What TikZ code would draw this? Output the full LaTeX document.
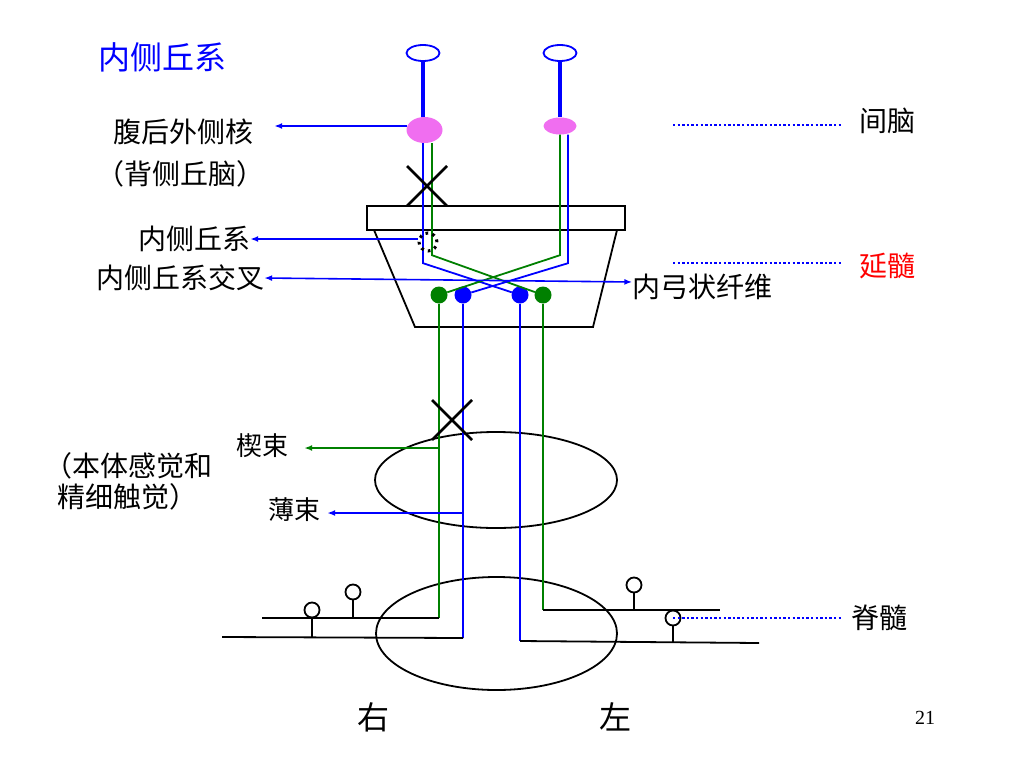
\documentclass[tikz,border=0pt]{standalone}
\usepackage{fontspec}
\usepackage{xcolor}
\usepackage{tikz}
\usetikzlibrary{shapes,arrows.meta,positioning}
\setmainfont{Noto Sans CJK SC}
\newfontfamily\pagefont{Liberation Serif}
\definecolor{nerveblue}{RGB}{0,0,255}
\definecolor{nervegreen}{RGB}{0,128,0}
\definecolor{nucleuspink}{RGB}{240,110,240}
\definecolor{tagred}{RGB}{255,0,0}
\tikzstyle{tag} = [inner sep=0pt, font=\fontsize{28}{32}\selectfont]
\tikzstyle{cortex} = [ellipse, draw=nerveblue, fill=white, line width=1.8pt, minimum width=33pt, minimum height=16pt, inner sep=0pt]
\tikzstyle{nucleus} = [ellipse, fill=nucleuspink, inner sep=0pt]
\tikzstyle{relay} = [circle, minimum size=17pt, inner sep=0pt]
\tikzstyle{ganglion} = [circle, draw, line width=1.8pt, minimum size=15pt, inner sep=0pt]
\tikzstyle{axon} = [draw, nerveblue, line width=4pt]
\tikzstyle{bfiber} = [draw, nerveblue, line width=1.8pt]
\tikzstyle{gfiber} = [draw, nervegreen, line width=1.8pt]
\tikzstyle{root} = [draw, black, line width=1.8pt]
\tikzstyle{outline} = [draw, black, line width=1.8pt]
\tikzstyle{cut} = [draw, black, line width=2.8pt]
\tikzstyle{line} = [draw, -{Latex[length=8pt,width=6pt]}, nerveblue, line width=1.6pt]
\tikzstyle{guide} = [draw, nerveblue, line width=2.4pt, dash pattern=on 2.4pt off 2.2pt]

\begin{document}
\begin{tikzpicture}[x=1pt, y=-1pt]
        \useasboundingbox[fill=white] (0,0) rectangle (1024,768);

        % Place nodes
        \node [tag, nerveblue, font=\fontsize{32}{36}\selectfont] (title) at (162,57) {内侧丘系};
        \node [cortex] (cortexl) at (423,53) {};
        \node [cortex] (cortexr) at (560,53) {};
        \node [nucleus, minimum width=36pt, minimum height=26pt] (vpll) at (424.5,130) {};
        \node [nucleus, minimum width=33pt, minimum height=17pt] (vplr) at (560,126) {};
        \node [relay, fill=nervegreen] (gl) at (439,295) {};
        \node [relay, fill=nerveblue] (bl) at (463,295) {};
        \node [relay, fill=nerveblue] (br) at (520,295) {};
        \node [relay, fill=nervegreen] (gr) at (543,295) {};
        \node [ganglion] (g1) at (312,610) {};
        \node [ganglion] (g2) at (353,592) {};
        \node [ganglion] (g3) at (634,585) {};
        \node [ganglion] (g4) at (673,618) {};

        % Labels
        \node [tag] (vpl) at (183,132) {腹后外侧核};
        \node [tag] (thal) at (180.5,174) {（背侧丘脑）};
        \node [tag] (ml) at (194,239) {内侧丘系};
        \node [tag] (decus) at (180,278) {内侧丘系交叉};
        \node [tag] (arcu) at (702.5,287) {内弓状纤维};
        \node [tag] (dien) at (887,121) {间脑};
        \node [tag, tagred] (medu) at (887.5,266) {延髓};
        \node [tag] (cord) at (879,618) {脊髓};
        \node [tag, font=\fontsize{26}{30}\selectfont] (cune) at (262,446) {楔束};
        \node [tag, font=\fontsize{26}{30}\selectfont] (grac) at (294,510) {薄束};
        \node [tag, anchor=west] (sens) at (44,466) {（本体感觉和};
        \node [tag, anchor=west] (fine) at (57,497) {精细触觉）};
        \node [tag, font=\fontsize{32}{36}\selectfont] (sider) at (373,717) {右};
        \node [tag, font=\fontsize{32}{36}\selectfont] (sidel) at (615,717) {左};
        \node [tag, font=\pagefont\fontsize{20}{24}\selectfont] (page) at (925,718) {21};

        \coordinate (vplout) at (407,126);
        \coordinate (lemnout) at (418,239);
        \coordinate (levelD) at (673,125);
        \coordinate (levelM) at (673,263);
        \coordinate (cuneout) at (439,448);
        \coordinate (gracout) at (463,513);

        % Medulla and cord sections
        \path [outline] (367,206) rectangle (625,230);
        \path [outline] (374,230) -- (415,327) -- (593,327) -- (617,230);
        \path [outline] (496,480) ellipse [x radius=121pt, y radius=48pt];
        \path [outline] (496.5,633.5) ellipse [x radius=120.5pt, y radius=56.5pt];

        % Draw fibers
        \path [axon] (cortexl) -- (cortexl |- vpll.north);
        \path [axon] (cortexr) -- (vplr);
        \path [bfiber] ([xshift=-1.5pt]vpll.south) -- ++(0,120) -- (br);
        \path [gfiber] ([xshift=7.5pt]vpll.south) -- ++(0,112) -- (gr);
        \path [gfiber] (vplr.south) -- ++(0,120.5) -- (gl);
        \path [bfiber] ([xshift=8pt]vplr.south) -- ++(0,128.5) -- (bl);
        \path [gfiber] (gl) -- ++(0,323) coordinate (gle);
        \path [bfiber] (bl) -- ++(0,343) coordinate (ble);
        \path [bfiber] (br) -- ++(0,346) coordinate (bre);
        \path [gfiber] (gr) -- ++(0,315) coordinate (gre);
        \node [circle, draw, line width=3pt, dash pattern=on 2.6pt off 4.4pt, minimum size=18pt] (lemn) at (428,242) {};

        % Roots and ganglia
        \path [root] (gle) -- ++(-177,0);
        \path [root] (ble) -- ++(-241,-1);
        \path [root] (bre) -- ++(239,2);
        \path [root] (gre) -- ++(177,0);
        \path [root] (g1.south) -- ++(0,20);
        \path [root] (g2.south) -- ++(0,18);
        \path [root] (g3.south) -- ++(0,17);
        \path [root] (g4.south) -- ++(0,17);

        % Lesion crosses
        \path [cut] (407,166) -- (447,206) (447,166) -- (407,206);
        \path [cut] (432,400) -- (472,440) (472,400) -- (432,440);

        % Draw edges
        \path [line, shorten >=21pt] (vplout) -- (vplout -| vpl.east);
        \path [line] (lemnout) -- (lemnout -| ml.east);
        \path [line, {Latex[length=8pt,width=6pt]}-{Latex[length=8pt,width=6pt]}] (decus.east) -- ([yshift=5pt]arcu.west);
        \path [line, nervegreen, shorten >=16pt] (cuneout) -- (cuneout -| cune.east);
        \path [line, shorten >=7pt] (gracout) -- (gracout -| grac.east);
        \path [guide, shorten >=18pt] (levelD) -- (levelD -| dien.west);
        \path [guide, shorten >=17pt] (levelM) -- (levelM -| medu.west);
        \path [guide, shorten >=9pt] (g4.center) -- (g4.center -| cord.west);
\end{tikzpicture}
\end{document}
